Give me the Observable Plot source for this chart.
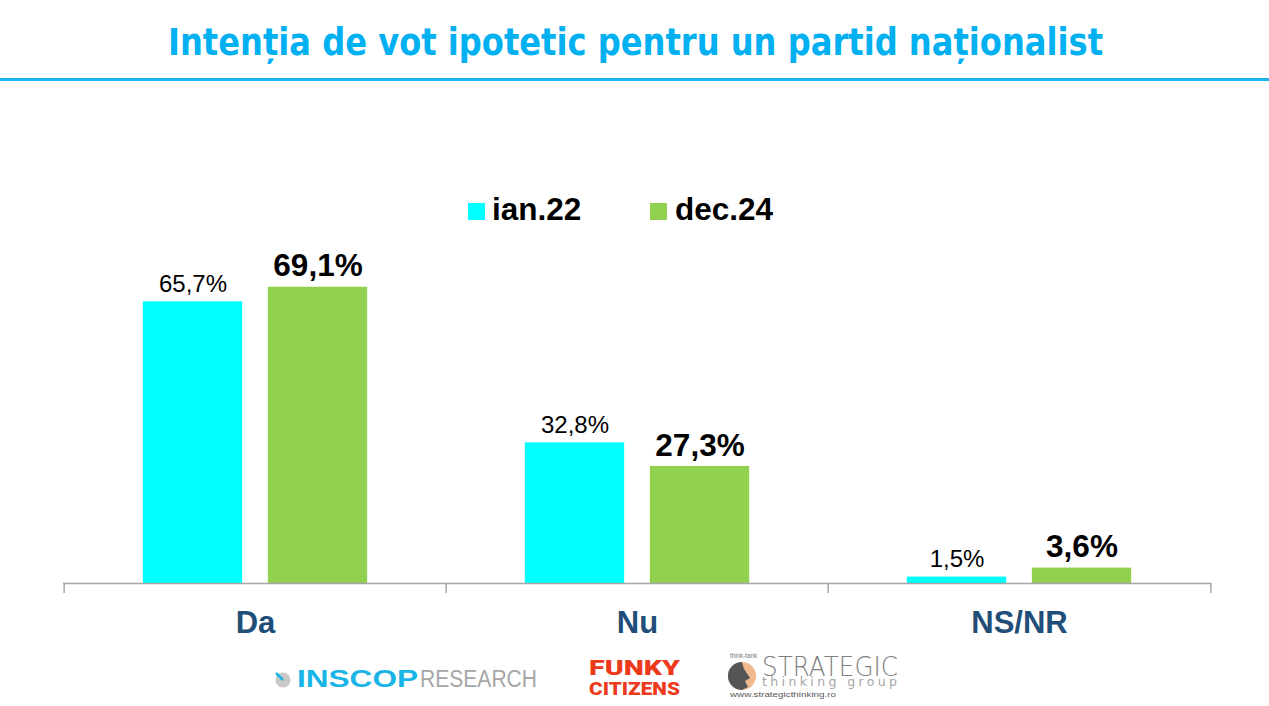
<!DOCTYPE html>
<html><head><meta charset="utf-8">
<script src="https://cdn.jsdelivr.net/npm/d3@7"></script>
<script src="https://cdn.jsdelivr.net/npm/@observablehq/plot@0.6"></script>
<style>
html,body{margin:0;padding:0;background:#fff}
body{width:1269px;height:706px;position:relative;overflow:hidden;font-family:"Liberation Sans",Arial,sans-serif}
#head{position:absolute;left:0;top:0}
#legend{position:absolute;left:0;top:0;width:1269px;height:240px;pointer-events:none}
.sw{position:absolute;width:17px;height:17px}
.lt{position:absolute;font-weight:bold;font-size:31.5px;line-height:31.5px;color:#000;white-space:nowrap}
#chart{position:absolute;left:0;top:240px}
#logos{position:absolute;left:0;top:645px}
</style></head><body>
<svg id="head" width="1269" height="84">
  <text x="635.5" y="55" text-anchor="middle" textLength="935" lengthAdjust="spacingAndGlyphs"
    style="font-family:'DejaVu Sans',sans-serif;font-stretch:condensed;font-weight:bold;font-size:37px;fill:#00B0F0">Intenția de vot ipotetic pentru un partid naționalist</text>
  <rect x="0" y="78" width="1269" height="3" fill="#1CB4EE"></rect>
</svg>
<div id="legend"></div>
<div id="chart"></div>
<svg id="logos" width="1269" height="61">
  <circle cx="283" cy="35" r="7.5" fill="#C8C8C8"></circle>
  <line x1="276" y1="28" x2="283" y2="35" stroke="#1BB4E6" stroke-width="2.5"></line>
  <text x="297" y="42" textLength="121" lengthAdjust="spacingAndGlyphs" style="font-family:'Liberation Sans';font-weight:bold;font-size:23px;fill:#1BB4E6">INSCOP</text>
  <text x="420" y="42" textLength="117" lengthAdjust="spacingAndGlyphs" style="font-family:'Liberation Sans';font-size:23px;fill:#A6A6A6">RESEARCH</text>
  <text x="589" y="30" textLength="91" lengthAdjust="spacingAndGlyphs" style="font-family:Roboto,'DejaVu Sans',sans-serif;font-weight:900;font-size:21px;fill:#EE3A1C">FUNKY</text>
  <text x="589" y="50" textLength="91" lengthAdjust="spacingAndGlyphs" style="font-family:Roboto,'DejaVu Sans',sans-serif;font-weight:900;font-size:18px;fill:#EE3A1C">CITIZENS</text>
  <text x="730" y="13" textLength="27" lengthAdjust="spacingAndGlyphs" style="font-family:'Liberation Sans';font-size:7px;fill:#777">think-tank</text>
  <circle cx="742" cy="31" r="14" fill="#F0B98E"></circle>
  <path d="M742,17 A14,14 0 0 0 742,45 L748,42 L745,36 L750,33 L744,24 Z" fill="#555"></path>
  <text x="762" y="31" textLength="136" lengthAdjust="spacingAndGlyphs" style="font-family:'DejaVu Sans';font-weight:300;font-size:27px;fill:#7F7F7F">STRATEGIC</text>
  <text x="762" y="41" textLength="135" lengthAdjust="spacing" style="font-family:'DejaVu Sans';font-size:12.5px;fill:#A6A6A6">thinking group</text>
  <text x="730" y="52" textLength="106" lengthAdjust="spacingAndGlyphs" style="font-family:'Liberation Sans';font-size:8px;fill:#595959">www.strategicthinking.ro</text>
</svg>
<script>
const categories = ["Da", "Nu", "NS/NR"];
const series = ["ian.22", "dec.24"];
const ian22 = [65.7, 32.8, 1.5];
const dec24 = [69.1, 27.3, 3.6];
const colors = ["#00FFFF", "#92D050"];

const data = categories.flatMap((c, i) => [
  {category: c, series: series[0], value: ian22[i]},
  {category: c, series: series[1], value: dec24[i]}
]);
const first = data.filter(d => d.series === series[0]);
const second = data.filter(d => d.series === series[1]);
const fmt = v => v.toFixed(1).replace(".", ",") + "%";

const W = 1269, H = 400, ML = 63, MR = 58, MB = 57;
const bw = (W - ML - MR) / categories.length;
const barW = 100, gap = 25, outer = (bw - 2 * barW - gap) / 2;

const chart = Plot.plot({
  width: W, height: H,
  marginLeft: ML, marginRight: MR, marginTop: 0, marginBottom: MB,
  x: {domain: categories, padding: 0, label: null},
  y: {domain: [0, 80], axis: null},
  color: {domain: series, range: colors},
  style: {fontFamily: "'Liberation Sans', Arial, sans-serif", background: "transparent", overflow: "visible"},
  marks: [
    Plot.barY(first, {x: "category", y: "value", fill: "series", insetLeft: outer, insetRight: outer + barW + gap}),
    Plot.barY(second, {x: "category", y: "value", fill: "series", insetLeft: outer + barW + gap, insetRight: outer}),
    Plot.ruleY([0], {stroke: "#A6A6A6", strokeWidth: 1.5}),
    Plot.ruleX(categories, {x: d => d, dx: -bw / 2, y1: 0, y2: 0, insetBottom: -10, stroke: "#A6A6A6", strokeWidth: 1.5}),
    Plot.ruleX(categories.slice(-1), {x: d => d, dx: bw / 2, y1: 0, y2: 0, insetBottom: -10, stroke: "#A6A6A6", strokeWidth: 1.5}),
    Plot.text(first, {x: "category", y: "value", text: d => fmt(d.value), dx: -(barW + gap) / 2, dy: -17.5, fontSize: 24, fill: "#000"}),
    Plot.text(second, {x: "category", y: "value", text: d => fmt(d.value), dx: (barW + gap) / 2, dy: -21, fontSize: 31.5, fontWeight: "bold", fill: "#000"}),
    Plot.axisX({tickSize: 0, tickPadding: 27, fontSize: 31, fontWeight: "bold", fill: "#1F4E79", label: null})
  ]
});
document.getElementById("chart").appendChild(chart);

// legend
const legend = document.getElementById("legend");
const legendPos = [{sx: 468, tx: 492}, {sx: 650, tx: 675}];
series.forEach((s, i) => {
  const sw = document.createElement("div");
  sw.className = "sw";
  sw.style.left = legendPos[i].sx + "px";
  sw.style.top = "203px";
  sw.style.background = colors[i];
  legend.appendChild(sw);
  const t = document.createElement("div");
  t.className = "lt";
  t.style.left = legendPos[i].tx + "px";
  t.style.top = "194px";
  t.textContent = s;
  legend.appendChild(t);
});
</script>
</body></html>
